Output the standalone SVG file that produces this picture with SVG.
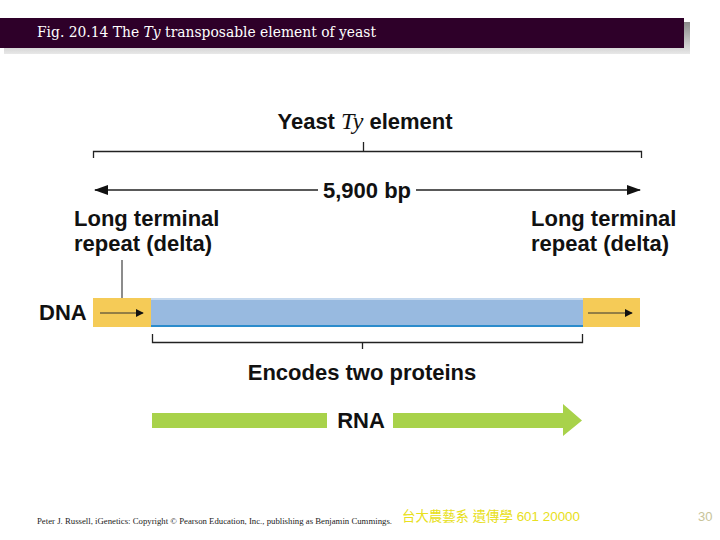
<svg xmlns="http://www.w3.org/2000/svg" width="720" height="540" viewBox="0 0 720 540">
<defs>
<style>
.lbl{font-family:"Liberation Sans",Arial,sans-serif;font-weight:bold;fill:#111;}
.ln{stroke:#222;stroke-width:1.3;fill:none;}
</style>
<linearGradient id="shadow" x1="0" y1="0" x2="0" y2="1">
<stop offset="0" stop-color="#8a8a8a"/><stop offset="1" stop-color="#e8e8e8"/>
</linearGradient>
<marker id="ah" viewBox="0 0 10 10" refX="9" refY="5" markerWidth="8" markerHeight="8" markerUnits="userSpaceOnUse" orient="auto-start-reverse">
<path d="M0,0 L10,5 L0,10 z" fill="#111"/>
</marker>
<marker id="ahBig" viewBox="0 0 14 10" refX="13" refY="5" markerWidth="14" markerHeight="10" markerUnits="userSpaceOnUse" orient="auto-start-reverse">
<path d="M0,0 L14,5 L0,10 z" fill="#111"/>
</marker>
</defs>
<rect width="720" height="540" fill="#fff"/>
<g id="titlebar">
<rect x="4" y="22" width="686" height="32" fill="url(#shadow)"/>
<rect x="0" y="18" width="684" height="30" fill="#2e0029"/>
<text x="37" y="37" font-family="'DejaVu Serif','Liberation Serif',serif" font-size="14" fill="#fff" textLength="339" lengthAdjust="spacingAndGlyphs">Fig. 20.14  The <tspan font-style="italic">Ty</tspan> transposable element of yeast</text>
</g>
<g id="heading">
<text class="lbl" x="365" y="129" font-size="22" text-anchor="middle">Yeast <tspan font-family="'Liberation Serif',serif" font-style="italic" font-weight="normal" font-size="24">Ty</tspan> element</text>
</g>
<g id="connectors">
<path class="ln" d="M93.5,158 V151.5 H641.5 V158 M363.5,142 V151.5"/>
<line class="ln" x1="95" y1="190" x2="318" y2="190" marker-start="url(#ahBig)"/>
<line class="ln" x1="416" y1="190" x2="640" y2="190" marker-end="url(#ahBig)"/>
<line x1="122" y1="260" x2="122" y2="298" stroke="#666" stroke-width="1.5"/>
<path class="ln" d="M152.5,334 V342.5 H582.5 V334 M362.5,342.5 V349"/>
</g>
<g id="size">
<text class="lbl" x="367" y="198" font-size="22" text-anchor="middle">5,900 bp</text>
</g>
<g id="ltr-left">
<text class="lbl" x="74" y="226" font-size="22">Long terminal</text>
<text class="lbl" x="74" y="251" font-size="22">repeat (delta)</text>
</g>
<g id="ltr-right">
<text class="lbl" x="531" y="226" font-size="22">Long terminal</text>
<text class="lbl" x="531" y="251" font-size="22">repeat (delta)</text>
</g>
<g id="dna">
<text class="lbl" x="39" y="320" font-size="22">DNA</text>
<rect x="93" y="298" width="58" height="29" fill="#f5cb57"/>
<rect x="583" y="298" width="57" height="29" fill="#f5cb57"/>
<rect x="151" y="298" width="432" height="29" fill="#98bae0"/>
<rect x="151" y="298" width="432" height="2" fill="#c4d8ee"/>
<rect x="151" y="325" width="432" height="2" fill="#2b8ccc"/>
<line x1="100" y1="313" x2="143" y2="313" stroke="#333" stroke-width="1" marker-end="url(#ah)"/>
<line x1="588" y1="313" x2="632" y2="313" stroke="#333" stroke-width="1" marker-end="url(#ah)"/>
</g>
<g id="encodes">
<text class="lbl" x="362" y="380" font-size="22" text-anchor="middle">Encodes two proteins</text>
</g>
<g id="rna">
<rect x="152" y="413" width="175" height="15" fill="#a8d24a"/>
<path d="M393,413 H563 V404 L582,420.5 L563,436 V428 H393 z" fill="#a8d24a"/>
<text class="lbl" x="361" y="428" font-size="22" text-anchor="middle">RNA</text>
</g>
<g id="footer">
<text x="37" y="524" font-family="'Liberation Serif',serif" font-size="8" fill="#222" textLength="355" lengthAdjust="spacingAndGlyphs">Peter J. Russell, iGenetics: Copyright © Pearson Education, Inc., publishing as Benjamin Cummings.</text>
<text x="402" y="521" font-family="'Liberation Sans','Noto Sans CJK TC',sans-serif" font-size="13.5" fill="#e8e020" textLength="178" lengthAdjust="spacingAndGlyphs">台大農藝系 遺傳學 601 20000</text>
<text x="698" y="521" font-family="'Liberation Sans',sans-serif" font-size="13" fill="#c8c49a">30</text>
</g>
</svg>
